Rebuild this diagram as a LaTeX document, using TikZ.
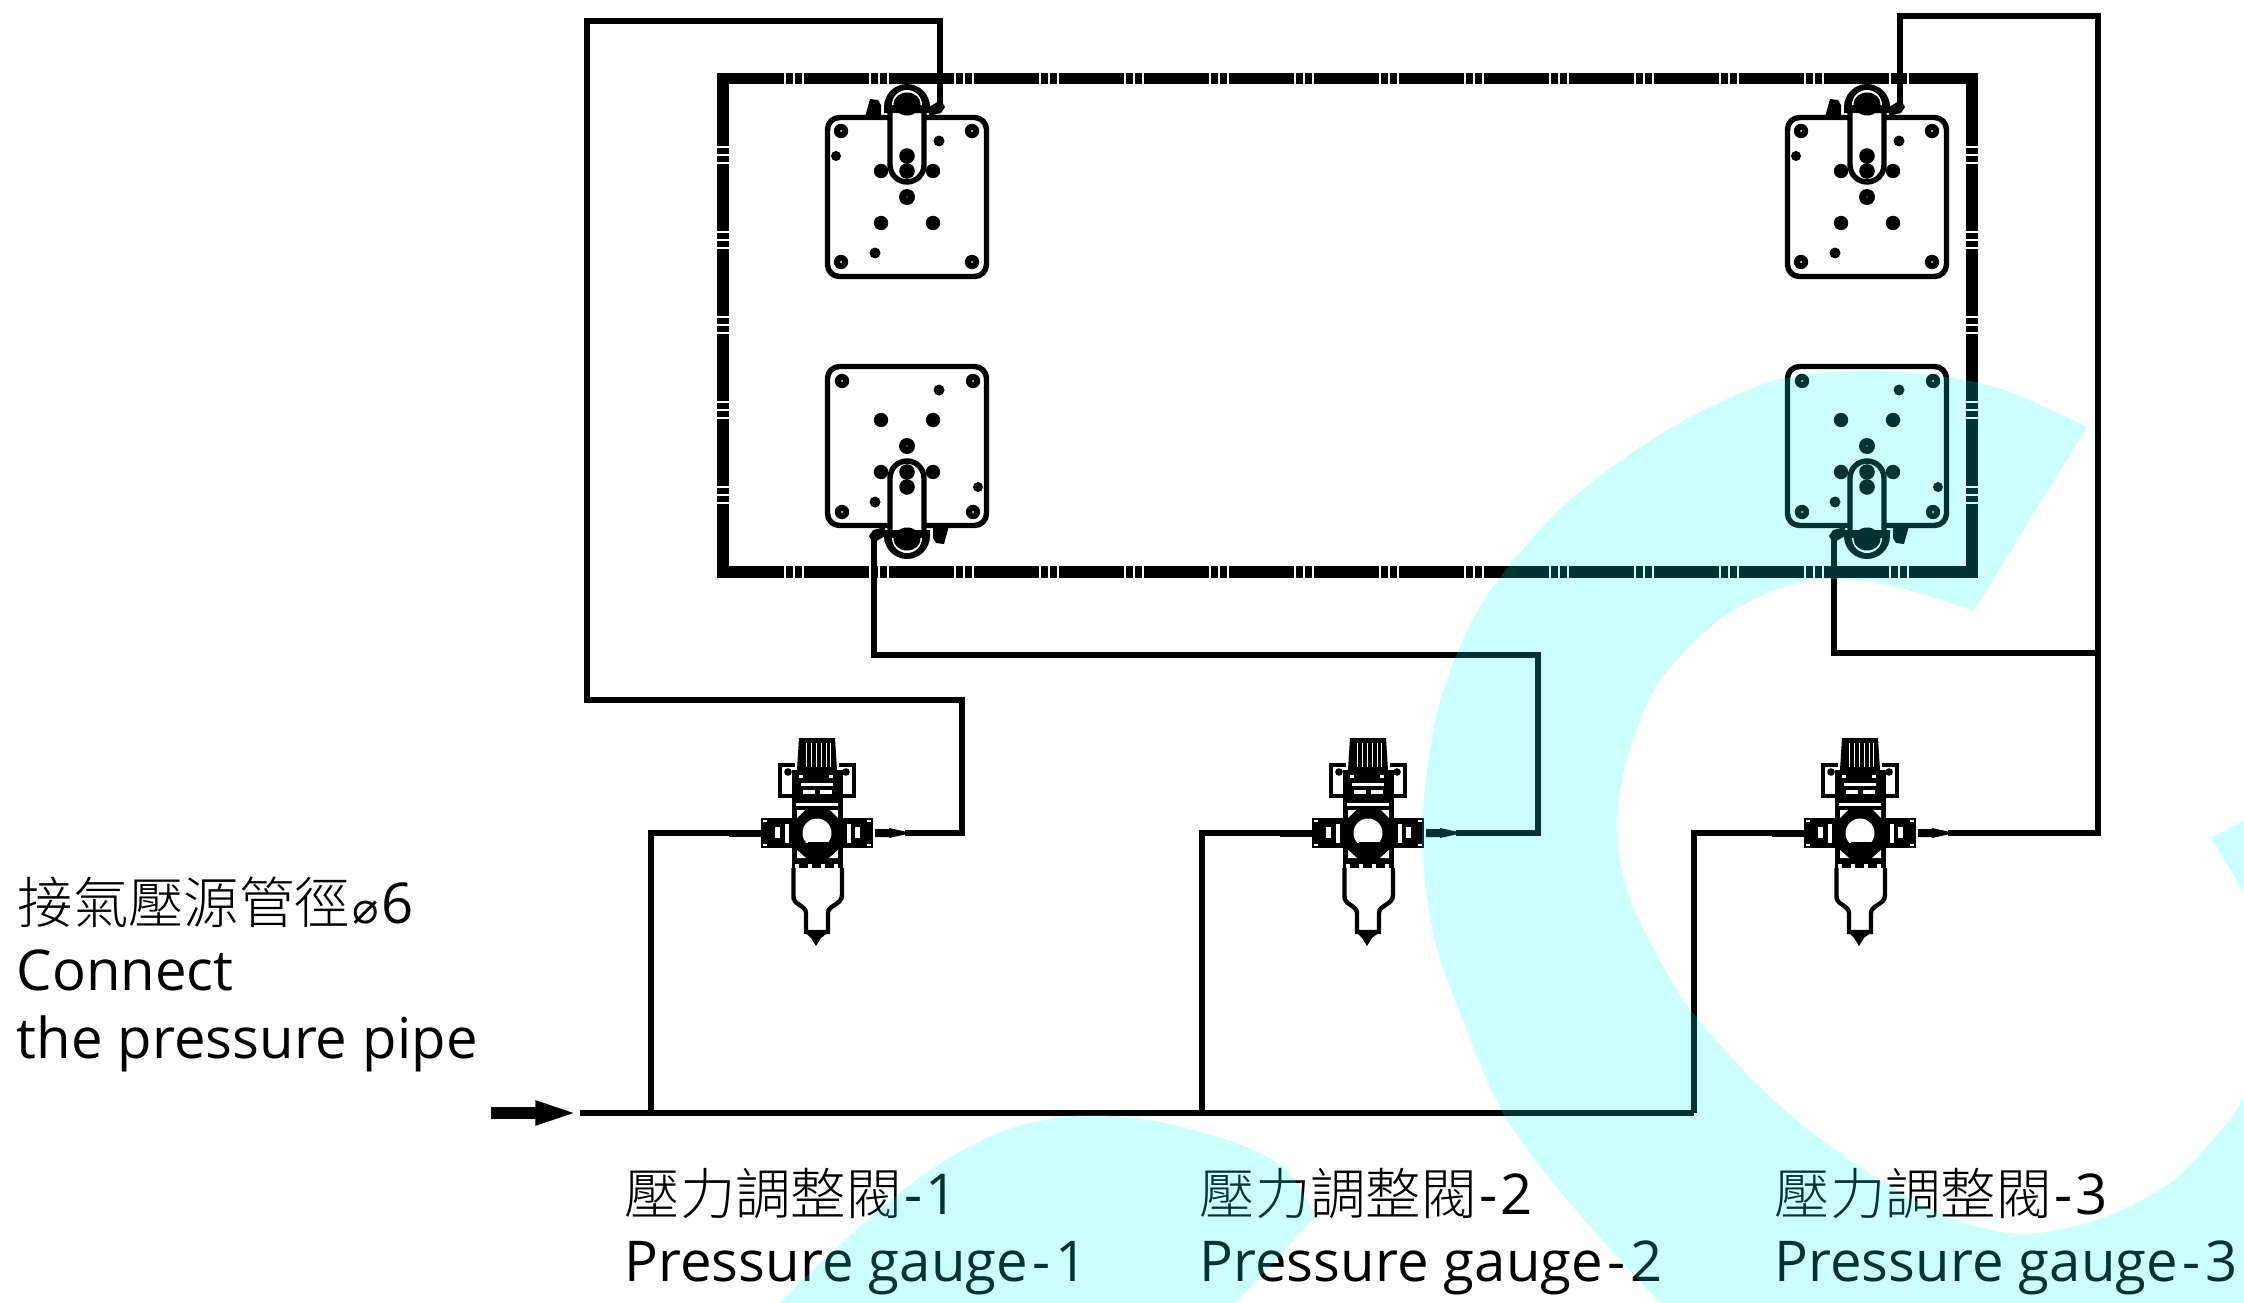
\documentclass[tikz,border=0pt]{standalone}
\usepackage{fontspec}
\setmainfont{Open Sans}[WordSpace=1.05]
\newfontfamily\cjk{Noto Sans CJK TC Light}
\newfontfamily\sym{DejaVu Sans}
\usetikzlibrary{arrows.meta}

\definecolor{wmark}{RGB}{0,255,255}
\newcommand{\cjksize}{\cjk\fontsize{15.75pt}{18pt}\selectfont}

\tikzset{
  pipe/.style={line width=1.45pt},
  framebar/.style={line width=3.3pt},
  whitetick/.style={white, line width=.5pt},
  plateline/.style={line width=1.55pt},
  caption/.style={anchor=base west, inner sep=0pt, font=\fontsize{16pt}{18pt}\selectfont},
  watermark/.style={fill=wmark, opacity=.2},
  feedarrow/.style={line width=3.3pt, -{Triangle[length=13pt,width=6pt]}},
  pics/plateunit/.style={code={
    \draw[plateline, rounded corners=3.4pt] (-79.5,-79.5) rectangle (79.5,79.5);
    % corner holes
    \foreach \a/\b in {-66/-66, 65/-66, -66/65, 65/65} {
      \fill (\a,\b) circle (7.2);
      \fill[white] (\a,\b) circle (1);
    }
    % slot
    \fill[white] (-17,-90) -- (-17,-32) arc[start angle=180,end angle=0,radius=17] -- (17,-90) -- cycle;
    \foreach \a/\b/\r in {32/-56/5.5, -71/-41/5, -32/56/5.5, -26/26/7.2, 26/26/7.2,
                          -26/-26/7.2, 26/-26/7.2, 0/0/8, 0/-41/7.8, 0/-26/7.8}
      \fill (\a,\b) circle (\r);
    \fill[white] (0,0) circle (.6);
    \draw[plateline] (-17,-88) -- (-17,-32) arc[start angle=180,end angle=0,radius=17] -- (17,-88);
    % swing clamp head
    \fill (-23,-84) -- (-23,-90) arc[start angle=180,end angle=360,radius=23] -- (23,-84) -- cycle;
    \fill[white] (-15,-92) arc[start angle=180,end angle=360,radius=15] -- cycle;
    \fill (0,-93) ellipse (13.5 and 11.5);
    % clamp lug and port
    \fill (-42,-80) -- (-37,-98) -- (-29,-97) -- (-26,-92) -- (-26,-80) -- cycle;
    \fill (22,-90) -- (34,-97) -- (38,-90) -- (34,-84) -- (22,-81) -- cycle;
    \coordinate (-port) at (33,-90);
  }},
  pics/regunit/.style={code={
    % knob
    \fill (-18,-95) -- (18,-95) -- (20,-63) -- (-20,-63) -- cycle;
    \foreach \a in {-11,-6,-1,4,9,13}
      \draw[white, line width=.25pt] (\a,-90) -- (\a,-66);
    % bracket and bonnet
    \draw[line width=1.4pt] (-22,-68) -- (-37,-68) -- (-37,-37) -- (-22,-37);
    \draw[line width=1.4pt] (22,-68) -- (37,-68) -- (37,-37) -- (22,-37);
    \fill (-29,-61) circle (3.8);
    \fill (29,-61) circle (3.8);
    \fill (-25,-63) rectangle (26,-12);
    \fill[white] (-16,-50) rectangle (16,-47);
    \fill[white] (-14,-43) rectangle (-2,-39);
    \fill[white] (3,-43) rectangle (15,-39);
    \fill[white] (-21,-30) rectangle (21,-27);
    \fill[white] (-18,-58) rectangle (-14,-55);
    \fill[white] (12,-58) rectangle (16,-55);
    % fittings
    \fill (-56,-15) rectangle (-24,15);
    \fill (26,-15) rectangle (56,15);
    \fill[white] (-42,-6) rectangle (-37,5);
    \fill[white] (-32,-9) rectangle (-28,10);
    \fill[white] (38,-6) rectangle (43,5);
    \fill[white] (30,-9) rectangle (34,10);
    \foreach \b in {-16,-12,12,16} {
      \fill[white] (-54,\b-1) rectangle (-50,\b+1);
      \fill[white] (50,\b-1) rectangle (54,\b+1);
    }
    % gauge circle and filter band
    \fill (-25,-12) rectangle (26,37);
    \fill[white] (-20,-23) -- (-12,-23) -- (-20,-15) -- cycle;
    \fill[white] (21,-23) -- (13,-23) -- (21,-15) -- cycle;
    \fill[white] (-20,17) -- (-20,25) -- (-11,25) -- cycle;
    \fill[white] (21,17) -- (21,25) -- (12,25) -- cycle;
    \fill (0,2) circle (21);
    \fill[white] (0,0) circle (14.5);
    \fill (-9,9) rectangle (11,24);
    \fill (-16,10) -- (16,10) -- (8,14) -- (-8,14) -- cycle;
    \foreach \a in {-20,-7,6,19}
      \fill[white] (\a-2,31) rectangle (\a+2,35);
    % bowl
    \fill[white] (-21,38) rectangle (22,60);
    \draw[line width=1.25pt, fill=white] (-23.5,35) -- (-23.5,62) .. controls (-25,72) and (-11,72) .. (-11,80)
      -- (-11,99) -- (11,99) -- (11,80) .. controls (11,72) and (25,72) .. (25,62) -- (25,35);
    \fill (-13,98) -- (-6,105) -- (-1,113) -- (4,105) -- (13,98) -- cycle;
    % nozzles
    \fill (-88,-3.5) rectangle (-56,3.5);
    \fill (58,-4) -- (72,-4) -- (72,-5) -- (88,-1.5) -- (88,1.5) -- (72,5) -- (72,4) -- (58,4) -- cycle;
    \coordinate (-in) at (-88,0);
    \coordinate (-out) at (88,0);
  }}
}

\begin{document}
\begin{tikzpicture}[x=.01cm, y=-.01cm]
\useasboundingbox (0,0) rectangle (2244,1303);

% frame
\draw[framebar] (723,78.5) rectangle (1972,572);
\foreach \k in {0,...,13} \foreach \d in {0,9,18} {
  \draw[whitetick] ({785+85*\k+\d},72) -- ({785+85*\k+\d},85);
  \draw[whitetick] ({785+85*\k+\d},565.5) -- ({785+85*\k+\d},578.5);
}
\foreach \k in {0,...,4} \foreach \d in {0,8,16} {
  \draw[whitetick] (716.5,{147+85*\k+\d}) -- (729.5,{147+85*\k+\d});
  \draw[whitetick] (1965.5,{147+85*\k+\d}) -- (1978.5,{147+85*\k+\d});
}

% plates
\pic (pa) at (907,197) {plateunit};
\pic[rotate=180] (pb) at (907,446) {plateunit};
\pic (pc) at (1867,197) {plateunit};
\pic[rotate=180] (pd) at (1867,446) {plateunit};

% regulators
\pic (r1) at (817,833) {regunit};
\pic (r2) at (1368,833) {regunit};
\pic (r3) at (1860,833) {regunit};

% air lines
\coordinate (tail) at (491,1113);
\coordinate (head) at (581,1113);
\coordinate (feed) at (580,1113);
\coordinate (t1) at (651,1113);
\coordinate (t2) at (1202,1113);
\coordinate (t3) at (1694,1113);

\draw[feedarrow] (tail) -- (head);
\draw[pipe] (feed) -- (t3);
\draw[pipe] (t1) -- (651,833) -- (r1-in);
\draw[pipe] (t2) -- (1202,833) -- (r2-in);
\draw[pipe] (t3) -- (1694,833) -- (r3-in);

\draw[pipe] (r1-out) -- (962,833) -- (962,700) -- (587,700) -- (587,21) -- (940,21) -- (pa-port);
\draw[pipe] (r2-out) -- (1538,833) -- (1538,655) -- (874,655) -- (pb-port);
\draw[pipe] (r3-out) -- (2098,833) -- (2098,16) -- (1900,16) -- (pc-port);
\draw[pipe] (pd-port) -- (1834,653) -- (2098,653);

% labels
\node[caption] (src1) at (17,923) {{\cjksize 接氣壓源管徑}\kern.7pt{\sym\fontsize{12.5pt}{12.5pt}\selectfont ⌀}\kern.7pt 6};
\node[caption] (src2) at (16,990) {Connect};
\node[caption] (src3) at (16,1058) {the pressure pipe};

\node[caption] (g1a) at (624,1214) {{\cjksize 壓力調整閥}\kern.8pt-\kern.8pt 1};
\node[caption] (g1b) at (624,1281) {Pressure gauge\kern1.4pt-\kern1.4pt 1};
\node[caption] (g2a) at (1199,1214) {{\cjksize 壓力調整閥}\kern.8pt-\kern.8pt 2};
\node[caption] (g2b) at (1199,1281) {Pressure gauge\kern1.4pt-\kern1.4pt 2};
\node[caption] (g3a) at (1774,1214) {{\cjksize 壓力調整閥}\kern.8pt-\kern.8pt 3};
\node[caption] (g3b) at (1774,1281) {Pressure gauge\kern1.4pt-\kern1.4pt 3};

% watermark
\fill[watermark] plot[smooth] coordinates {(2087,427) (1992,386) (1884,371) (1777,380) (1669,429) (1561,508)
    (1481,605) (1438,709) (1422,830) (1433,933) (1460,1013) (1503,1113) (1567,1200) (1660,1303)}
  -- (2244,1303) -- plot[smooth] coordinates {(2244,1098) (2223,1128) (2170,1183) (2100,1219) (2019,1234)
    (1938,1213) (1857,1165) (1800,1123) (1750,1077) (1693,1013) (1667,973) (1630,900) (1617,833) (1626,763) (1658,684)
    (1723,617) (1804,581) (1884,584) (1974,611)} -- cycle;
\fill[watermark] (2244,821) -- (2211,838) -- (2244,892) -- cycle;
\fill[watermark] plot[smooth] coordinates {(779,1303) (853,1233) (930,1170) (1006,1130) (1083,1115)
    (1159,1122) (1236,1143) (1287,1170) (1315,1217)} -- (1236,1303) -- cycle;
\end{tikzpicture}
\end{document}
